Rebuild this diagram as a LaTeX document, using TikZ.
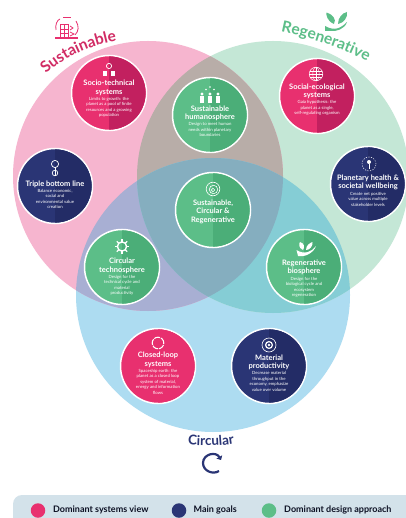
\documentclass[tikz,border=0pt]{standalone}
\usepackage{fontspec}
\setmainfont{Lato}
\usetikzlibrary{decorations.text,arrows.meta}
\definecolor{pinkc}{HTML}{F6B5CF}
\definecolor{greenc}{HTML}{C4E7D6}
\definecolor{bluec}{HTML}{ADDCF1}
\definecolor{pg}{HTML}{B8ADA8}
\definecolor{pb}{HTML}{A8AFD3}
\definecolor{gb}{HTML}{85CDD5}
\definecolor{pgb}{HTML}{85AEBF}
\definecolor{rose}{HTML}{E8306F}
\definecolor{roseD}{HTML}{C2205F}
\definecolor{navy}{HTML}{2A3575}
\definecolor{navyD}{HTML}{232C66}
\definecolor{mint}{HTML}{5CBE88}
\definecolor{mintD}{HTML}{4BAE78}
\definecolor{legendbg}{HTML}{D3E2EA}
\tikzset{
  basedisc/.style={circle,draw=white,line width=1.5pt,minimum size=75pt,inner sep=0pt},
  titletext/.style={text=white,font=\fontsize{7.5}{8.7}\selectfont\bfseries,align=center,inner sep=0pt},
  subtext/.style={text=white,font=\fontsize{4.3}{5.5}\selectfont,align=center,inner sep=0pt},
  ico/.style={draw=white,line width=.7pt,fill=none},
  icof/.style={fill=white},
  legendtext/.style={text=black!70!navy,font=\fontsize{9}{10}\selectfont\bfseries,anchor=west,inner sep=0pt},
  legenddot/.style={circle,minimum size=14.5pt,inner sep=0pt},
}
% name, x, y, left colour, right colour, title y offset, title, body
\newcommand\bubbledisc[8]{%
  \node[basedisc,fill=#4] (#1) at (#2,#3) {};
  \begin{scope}
    \clip (#2,#3-40) rectangle (#2+40,#3+40);
    \fill[#5] (#2,#3) circle (36.6pt);
  \end{scope}
  \node[titletext,anchor=north] (#1t) at (#2,#3+#6) {#7};
  \node[subtext,anchor=north] (#1b) at (#1t.south) [yshift=-1.2pt] {#8};
}
\begin{document}
\begin{tikzpicture}[x=1pt,y=-1pt]
\useasboundingbox (0,0) rectangle (405,518);
\fill[white] (0,0) rectangle (405,518);
% three circles
\coordinate (P) at (148,176);
\coordinate (G) at (273,177);
\coordinate (B) at (213,295);
\fill[bluec] (B) circle (137pt);
\fill[greenc] (G) circle (136pt);
\fill[pinkc] (P) circle (135pt);
\begin{scope}\clip (P) circle (135pt); \fill[pg] (G) circle (136pt); \fill[pb] (B) circle (137pt);\end{scope}
\begin{scope}\clip (G) circle (136pt); \fill[gb] (B) circle (137pt);\end{scope}
\begin{scope}\clip (P) circle (135pt); \clip (G) circle (136pt); \fill[pgb] (B) circle (137pt);\end{scope}
% curved titles
\path[decorate,decoration={text along path,text align=center,
  text={|\fontsize{15.5}{15}\selectfont\bfseries\color{rose!90!black}|Sustainable}}]
  (38,82) .. controls (58,60) and (88,44) .. (128,39);
\path[decorate,decoration={text along path,text align=center,
  text={|\fontsize{15.5}{15}\selectfont\bfseries\color{mint}|Regenerative}}]
  (272,30) .. controls (305,36) and (345,48) .. (375,66);
\path[decorate,decoration={text along path,text align=center,
  text={|\fontsize{13.5}{14}\selectfont\bfseries\color{navy}|Circular}}]
  (175,443) .. controls (195,447) and (225,447) .. (247,441);
% bubbles
\bubbledisc{socio}{109}{93}{rose}{roseD}{-13}{Socio-technical\\systems}{Limits to growth: the\\planet as a pool of finite\\resources and a growing\\population}
\bubbledisc{triple}{55}{186}{navy}{navyD}{-5.5}{Triple bottom line}{Balance economic,\\social and\\environmental value\\creation}
\bubbledisc{human}{210}{115}{mint}{mintD}{-9.5}{Sustainable\\humanosphere}{Design to meet human\\needs within planetary\\boundaries}
\bubbledisc{core}{213}{210}{mint}{mintD}{-10.5}{Sustainable,\\Circular \&\\Regenerative}{}
\bubbledisc{techno}{122}{267}{mint}{mintD}{-9}{Circular\\technosphere}{Design for the\\technical cycle and\\material\\productivity}
\bubbledisc{bio}{304}{267}{mint}{mintD}{-7.5}{Regenerative\\biosphere}{Design for the\\biological cycle and\\ecosystem\\regeneration}
\bubbledisc{closed}{158}{366}{rose}{rose}{-14}{Closed-loop\\systems}{Spaceship earth: the\\planet as a closed loop\\system of material,\\energy and information\\flows}
\bubbledisc{material}{269}{366}{navy}{navyD}{-11.5}{Material\\productivity}{Decrease material\\throughput in the\\economy, emphasize\\value over volume}
\bubbledisc{social}{317}{96}{rose}{roseD}{-12.5}{Social-ecological\\systems}{Gaia hypothesis: the\\planet as a single,\\self-regulating organism}
\bubbledisc{planet}{368}{184}{navy}{navyD}{-9.5}{Planetary health \&\\societal wellbeing}{Create net positive\\value across multiple\\stakeholder levels}
% --- icons in bubbles ---
% socio
\draw[ico] (109,66) circle (2.6pt);
\fill[icof] (103,71.5) rectangle (107,76); \fill[icof] (111,71.5) rectangle (115,76);
% triple
\draw[ico] (55,164) circle (3.6pt); \draw[ico] (55,173) circle (2.8pt); \draw[ico] (55,167)--(55,176);
% humanosphere
\foreach \dx in {-8,0,8}{\fill[icof] (210+\dx,94) circle (1.7pt); \fill[icof] (210+\dx-2.4,96.5) rectangle (210+\dx+2.4,103);}
\foreach \dx in {-4,4}{\fill[icof] (210+\dx,89.5) circle (.8pt);}
\fill[icof] (210,87) circle (.8pt);
% core spiral
\draw[ico,line width=.6pt] (213,189) circle (6.8pt);
\draw[ico,line width=.6pt] (213.5,189.5) circle (4.2pt);
\draw[ico,line width=.6pt] (213,190) circle (1.8pt);
% techno gear
\draw[ico,line width=1.4pt] (122,246.5) circle (4.6pt);
\foreach \a in {0,45,...,315}{\draw[white,line width=1.2pt] ({122+4.6*cos(\a)},{246.5+4.6*sin(\a)}) -- ({122+7.4*cos(\a)},{246.5+7.4*sin(\a)});}
% bio hand and leaves
\fill[icof] (296.5,250) .. controls (304,255) and (312,252) .. (316,246) .. controls (314,252) and (306,257.5) .. (298,256) -- cycle;
\fill[icof] (303,250) .. controls (298,248) and (299,243) .. (300,242) .. controls (304,243) and (305,247) .. (303,250) -- cycle;
\fill[icof] (306,250) .. controls (306,245) and (310,243) .. (312.5,242) .. controls (313,246) and (310,250) .. (306,250) -- cycle;
% closed loop
\draw[ico,line width=1pt,dash pattern=on 6pt off 1pt] (158,343) circle (5.8pt);
% material
\draw[ico,line width=1.2pt] (269,345) circle (3.4pt);
\draw[ico,line width=.6pt] (269,345) circle (7pt);
\fill[icof] (269,345) circle (1.3pt);
% social globe
\draw[ico,line width=.5pt] (316,74) circle (6.8pt);
\draw[ico,line width=.4pt] (316,74) ellipse (3.2pt and 6.8pt);
\draw[ico,line width=.4pt] (309.2,74)--(322.8,74) (310,71)--(322,71) (310,77)--(322,77) (316,67.2)--(316,80.8);
% planet
\draw[ico,line width=.5pt,dash pattern=on 1.2pt off 1.4pt] (369,164) circle (7pt);
\fill[icof] (369,162) circle (2pt); \draw[ico,line width=.7pt] (369,164)--(369,169);
% --- outer icons ---
% sustainable: building with gears
\fill[rose] (55,37) rectangle (78,39.5);
\draw[rose,line width=1pt] (60,37)--(60,25)--(68,25)--(68,37);
\draw[rose,line width=.8pt] (60,29)--(68,29) (60,33)--(68,33) (64,25)--(64,37);
\draw[rose,line width=.8pt] (70,26)--(73,28)--(70,30) (70,32)--(74,34)--(70,36);
\draw[rose,line width=.8pt] (56,30) .. controls (55,25) and (57,20) .. (60,19);
\draw[rose,line width=.8pt] (63,17) -- (71,17);
\draw[rose,line width=.8pt] (76,21) .. controls (79,26) and (79,31) .. (75,35);
% regenerative: hand with leaves
\fill[mint] (325,26) .. controls (334,31) and (340,29) .. (347,22) .. controls (345,29) and (336,32) .. (330,31) -- (325,31) -- cycle;
\fill[mint] (334,24) .. controls (327,21) and (326,15) .. (326.5,12.5) .. controls (332,14) and (337,19) .. (334,24) -- cycle;
\fill[mint] (338,24) .. controls (338,18) and (342,13) .. (347,12) .. controls (348,17) and (344,23) .. (338,24) -- cycle;
% circular arrow
\draw[navy,line width=2.2pt,-{Triangle[length=3.5pt,width=6.5pt]}]
  (219,471) .. controls (213,475) and (203,471) .. (203,463) .. controls (203,454) and (216,451) .. (221,460);
% legend
\path[fill=legendbg,rounded corners=9pt] (13,530) -- (13,495) -- (420,495) -- (420,530) -- cycle;
\node[legenddot,fill=rose] (d1) at (38,510.5) {};
\node[legenddot,fill=navy] (d2) at (179,510.5) {};
\node[legenddot,fill=mint] (d3) at (269,510.5) {};
\node[legendtext] (l1) at (53,510) {Dominant systems view};
\node[legendtext] (l2) at (193.5,510) {Main goals};
\node[legendtext] (l3) at (284,510) {Dominant design approach};
\end{tikzpicture}
\end{document}
